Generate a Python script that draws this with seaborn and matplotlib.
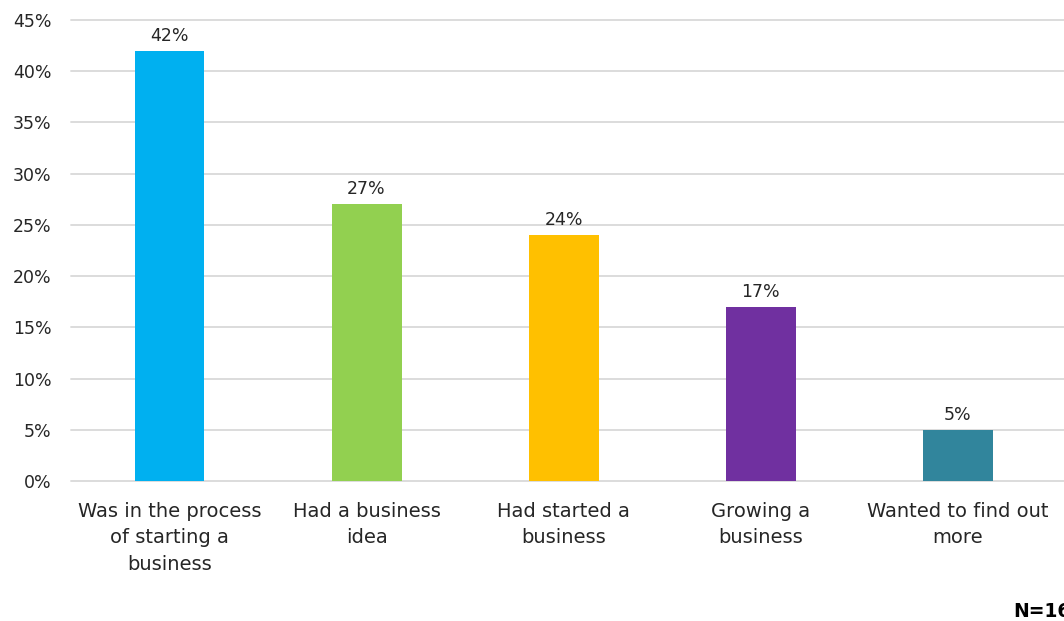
import matplotlib
matplotlib.use("Agg")
import matplotlib.pyplot as plt
import seaborn as sns
import pandas as pd

categories = [
    "Was in the process\nof starting a\nbusiness",
    "Had a business\nidea",
    "Had started a\nbusiness",
    "Growing a\nbusiness",
    "Wanted to find out\nmore",
]
values = [42, 27, 24, 17, 5]
colors = ["#00B0F0", "#92D050", "#FFC000", "#7030A0", "#31859C"]
y_ticks = [0, 5, 10, 15, 20, 25, 30, 35, 40, 45]
footnote = "N=166"

sns.set_theme(style="white")
plt.rcParams["font.family"] = ["DejaVu Sans"]
text_color = "#262626"

df = pd.DataFrame({"category": categories, "value": values})

fig = plt.figure(figsize=(10.64, 6.21), dpi=100)
ax = fig.add_axes([71 / 1064, 140 / 621, 1 - 71 / 1064, 461 / 621])

sns.barplot(data=df, x="category", y="value", hue="category",
            palette=colors, legend=False, width=0.355, saturation=1,
            linewidth=0, ax=ax, zorder=3)

ax.set_ylim(0, 45)
ax.set_xlim(-0.5, 4.54)
ax.set_yticks(y_ticks)
ax.set_yticklabels([f"{t}%" for t in y_ticks], fontsize=12.5, color=text_color)
ax.tick_params(axis="x", colors=text_color, length=0, pad=15)
for lbl in ax.get_xticklabels():
    lbl.set_fontsize(14)
    lbl.set_linespacing(1.5)
ax.tick_params(axis="y", length=0, pad=14)
ax.yaxis.grid(True, color="#D9D9D9", linewidth=1.3, zorder=0)
for gl in ax.get_ygridlines():
    gl.set_clip_on(False)
ax.set_xlabel("")
ax.set_ylabel("")
for s in ax.spines.values():
    s.set_visible(False)

for bar, v in zip(ax.patches, values):
    ax.text(bar.get_x() + bar.get_width() / 2, v + 0.6, f"{v}%",
            ha="center", va="bottom", fontsize=12.5, color=text_color)

fig.text(1013 / 1064, 1 - 617 / 621, footnote, ha="left", va="baseline",
         fontsize=13.5, fontweight="bold", color="black")

fig.savefig("out.png", dpi=100)
